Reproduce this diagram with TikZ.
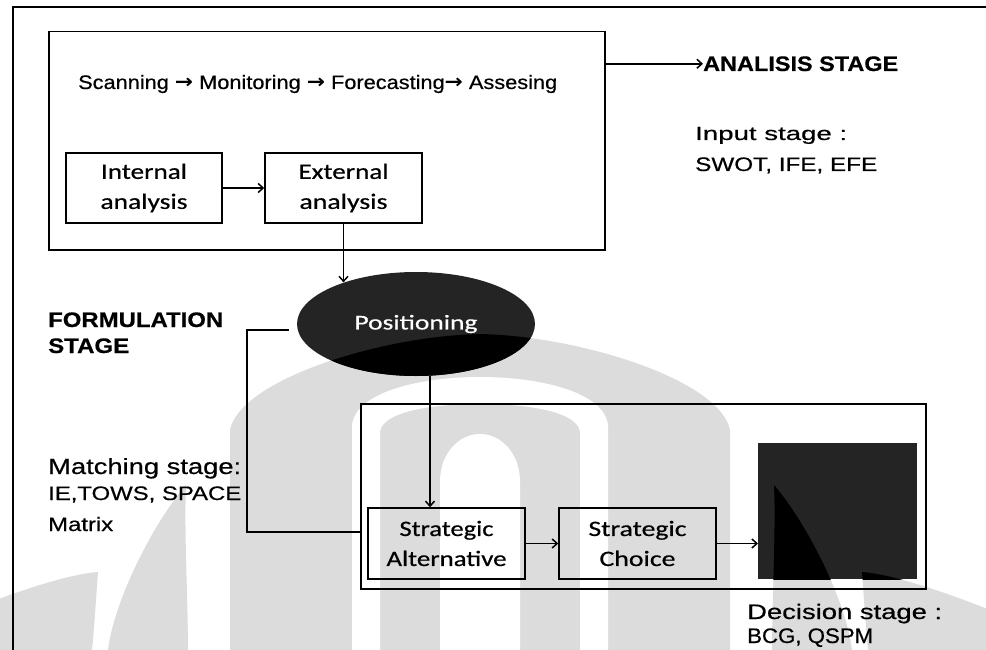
\documentclass[tikz,border=0pt]{standalone}
\usepackage{fontspec}
\usepackage{graphicx}
\setmainfont{Liberation Sans}[FakeBold=0.5]
\newfontfamily\calfont{Carlito}[FakeBold=0.5]
\newfontfamily\arrowfont{DejaVu Sans Bold}
\usetikzlibrary{arrows.meta,shapes.geometric,calc}
% scale a text horizontally to a given width, keeping its height
\newcommand\hs[2]{\resizebox{#1pt}{\height}{#2}}
\newcommand\thenarrow{{\arrowfont →}}
\definecolor{inkdark}{RGB}{36,36,36}
\definecolor{wmgrey}{RGB}{220,220,220}

% outline pieces of the faint emblem in the background
\newcommand\emblemdome{(230,650) -- (230,430) .. controls (240,380) and (380,336) .. (480,334)
  .. controls (580,336) and (720,380) .. (730,430) -- (730,650) -- cycle}
\newcommand\emblemgap{(352,650) -- (352,425) .. controls (356,392) and (420,377) .. (480,377)
  .. controls (540,377) and (604,392) .. (608,425) -- (608,650) -- (580,650) -- (580,432)
  .. controls (578,412) and (530,404) .. (480,404) .. controls (430,404) and (382,412) .. (380,432)
  -- (380,650) -- cycle}
\newcommand\emblemcore{(440,650) -- (440,482) .. controls (440,452) and (460,434) .. (480,434)
  .. controls (500,434) and (520,452) .. (520,482) -- (520,650) -- cycle}
\newcommand\emblempetalR{(774,485) .. controls (776,530) and (772,600) .. (772,650) -- (852,650)
  .. controls (846,600) and (806,522) .. (774,485) -- cycle}
\newcommand\emblempetalL{(186,485) .. controls (184,530) and (188,600) .. (188,650) -- (108,650)
  .. controls (114,600) and (154,522) .. (186,485) -- cycle}
\newcommand\emblemtipR{(862,572) .. controls (864,600) and (866,630) .. (868,650) -- (990,650)
  -- (990,610) .. controls (940,590) and (890,574) .. (862,572) -- cycle}
\newcommand\emblemtipL{(98,572) .. controls (96,600) and (94,630) .. (92,650) -- (-30,650)
  -- (-30,610) .. controls (20,590) and (70,574) .. (98,572) -- cycle}

\begin{document}
\begin{tikzpicture}[x=1pt,y=-1pt,
  frame/.style={line width=1.5pt},
  panel/.style={draw,line width=1.5pt,inner sep=0pt,anchor=north west},
  stepbox/.style={draw,line width=1.5pt,inner sep=0pt,align=center,
    font=\calfont\fontsize{22}{30}\selectfont},
  conn/.style={line width=1.5pt,-{Straight Barb[length=5pt,width=9pt]}},
  plain/.style={line width=1.5pt},
  lab/.style={inner sep=0pt,anchor=base west},
]
\useasboundingbox (0,0) rectangle (986,650);

% faint emblem behind the lower half
\fill[wmgrey] \emblemdome;
\fill[white] \emblemgap;
\fill[white] \emblemcore;
\fill[wmgrey] \emblempetalR;
\fill[wmgrey] \emblempetalL;
\fill[wmgrey] \emblemtipR;
\fill[wmgrey] \emblemtipL;

% outer frame (runs off the page to the right and bottom)
\draw[frame] (13,680) -- (13,7) -- (1010,7);

% analysis stage panel
\node[panel,minimum width=556pt,minimum height=218pt] (anpanel) at (48,31) {};
\node[lab,font=\fontsize{19.5}{22}\selectfont] (scan) at (78,89)
  {\hs{479}{Scanning \thenarrow{} Monitoring \thenarrow{} Forecasting\thenarrow{} Assesing}};

\node[stepbox,minimum width=156pt,minimum height=70pt] (internal) at (144,188)
  {\hs{86}{Internal}\\\hs{87}{analysis}};
\node[stepbox,minimum width=157pt,minimum height=70pt] (external) at (343.5,188)
  {\hs{90}{External}\\\hs{88}{analysis}};

% stage labels on the right
\node[lab,font=\bfseries\fontsize{21}{24}\selectfont] (analysis) at (703,71)
  {\hs{195}{ANALISIS STAGE}};
\node[lab,font=\fontsize{19}{22}\selectfont] (input1) at (695,140)
  {\hs{152}{Input stage :}};
\node[lab,font=\fontsize{19.5}{22}\selectfont] (input2) at (695,171)
  {\hs{182}{SWOT, IFE, EFE}};

% formulation stage
\node[ellipse,fill=inkdark,minimum width=238pt,minimum height=104pt,inner sep=0pt]
  (pos) at (416,324) {};
\begin{scope}
  \clip (pos.center) ellipse [x radius=119pt,y radius=52pt];
  \fill[black] \emblemdome;
\end{scope}
\node[text=white,inner sep=0pt,font=\calfont\fontsize{21}{24}\selectfont]
  (postext) at (pos.center) {\hs{123}{Positioning}};

\node[lab,font=\bfseries\fontsize{21}{24}\selectfont] (form1) at (48,327)
  {\hs{175}{FORMULATION}};
\node[lab,font=\bfseries\fontsize{21}{24}\selectfont] (form2) at (48,353)
  {\hs{81}{STAGE}};

\node[lab,font=\fontsize{22}{24}\selectfont] (match1) at (48,474)
  {\hs{193}{Matching stage:}};
\node[lab,font=\fontsize{19.5}{22}\selectfont] (match2) at (48,500)
  {\hs{193}{IE,TOWS, SPACE}};
\node[lab,font=\fontsize{19.5}{22}\selectfont] (match3) at (48,531)
  {\hs{65}{Matrix}};

% decision panel
\node[panel,minimum width=565pt,minimum height=185pt] (decpanel) at (360,403) {};
\node[stepbox,minimum width=157pt,minimum height=71pt] (alt) at (446.5,543.5)
  {\hs{94}{Strategic}\\\hs{120}{Alternative}};
\node[stepbox,minimum width=157pt,minimum height=71pt] (choice) at (637.5,543.5)
  {\hs{98}{Strategic}\\\hs{76}{Choice}};
\node[fill=inkdark,inner sep=0pt,minimum width=159pt,minimum height=136pt,
  anchor=north west] (matrixsq) at (758,443) {};
\begin{scope}
  \clip (matrixsq.north west) rectangle (matrixsq.south east);
  \fill[black] \emblempetalR;
  \fill[black] \emblemtipR;
\end{scope}

\node[lab,font=\fontsize{21}{24}\selectfont] (dec1) at (747,619)
  {\hs{195}{Decision stage :}};
\node[lab,font=\fontsize{21}{24}\selectfont] (dec2) at (747,643)
  {\hs{126}{BCG, QSPM}};

% connectors
\coordinate (downx) at (430,0);
\draw[conn] (anpanel.east |- analysis.west) -- (analysis.west);
\draw[conn] (internal.east) -- (external.west);
\draw[conn] (external.south) -- (external.south |- pos.150.7);
\draw[conn] (downx |- pos.south) -- (downx |- alt.north);
\coordinate (feedstart) at ($(pos.west)+(-8,6)$);
\coordinate (feedcorner) at (247,532);
\draw[plain] (feedstart) -| (feedcorner) -- (decpanel.west |- feedcorner);
\draw[conn] (alt.east) -- (choice.west);
\draw[conn] (choice.east) -- (matrixsq.west |- choice.east);
\end{tikzpicture}
\end{document}
